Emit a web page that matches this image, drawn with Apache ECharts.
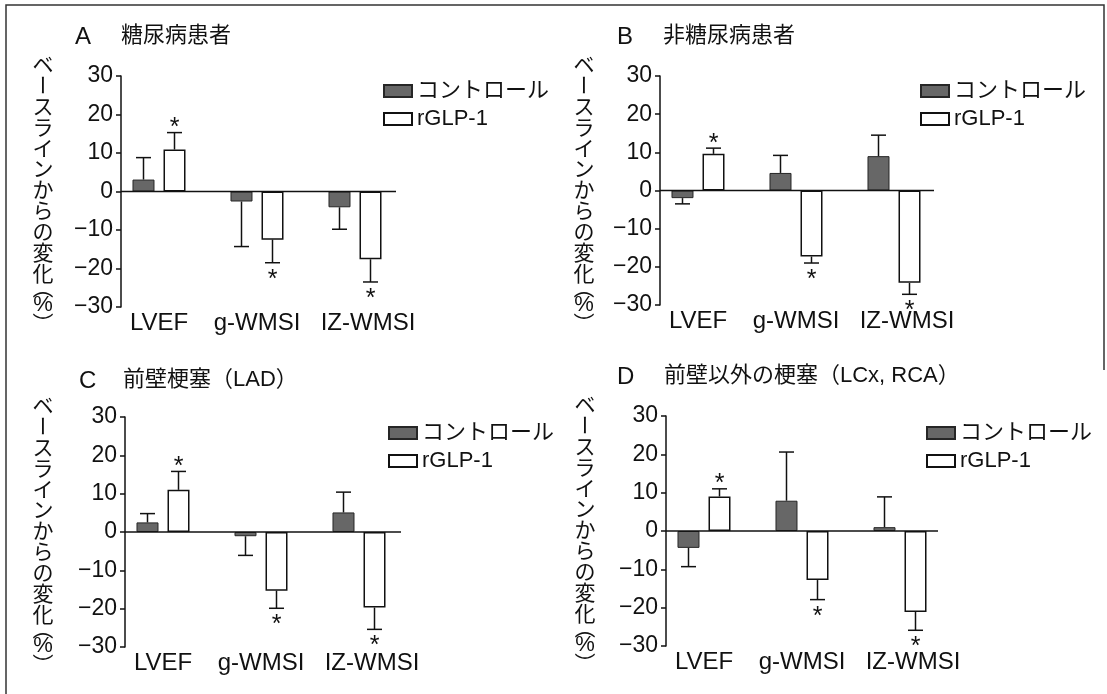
<!DOCTYPE html>
<html><head><meta charset="utf-8">
<script src="https://cdn.jsdelivr.net/npm/echarts@6/dist/echarts.min.js"></script>
<style>html,body{margin:0;padding:0;background:#fff}#c{width:1107px;height:694px}</style>
</head><body><div id="c"></div>
<script>
// ---------- data ----------
const categories = ['LVEF', 'g-WMSI', 'IZ-WMSI'];
const seriesNames = ['コントロール', 'rGLP-1'];
const yTickValues = [-30, -20, -10, 0, 10, 20, 30];
const baseline = 0;
const yAxisName = 'ベースラインからの変化（%）';
const panelLetters = ['A', 'B', 'C', 'D'];
const panelTitles = ['糖尿病患者', '非糖尿病患者', '前壁梗塞（LAD）', '前壁以外の梗塞（LCx, RCA）'];

// A: diabetic
const ctrlA = [3.1, -2.6, -4.1];
const ctrlErrA = [8.8, -14.3, -9.8];
const glpA = [10.9, -12.5, -17.6];
const glpErrA = [15.3, -18.5, -23.5];
// B: non-diabetic
const ctrlB = [-2.0, 4.6, 9.0];
const ctrlErrB = [-3.5, 9.2, 14.5];
const glpB = [9.6, -17.3, -24.2];
const glpErrB = [11.1, -19.0, -27.2];
// C: anterior (LAD)
const ctrlC = [2.5, -1.1, 5.1];
const ctrlErrC = [4.8, -6.1, 10.4];
const glpC = [11.0, -15.3, -19.7];
const glpErrC = [15.8, -19.9, -25.4];
// D: non-anterior (LCx, RCA)
const ctrlD = [-4.4, 7.9, 1.0];
const ctrlErrD = [-9.3, 20.6, 8.9];
const glpD = [9.0, -12.8, -21.1];
const glpErrD = [11.0, -17.9, -25.9];
// significance markers (*)
const ctrlSig = [0, 0, 0];
const glpSig = [1, 1, 1];

const panelData = [
  [ctrlA, ctrlErrA, glpA, glpErrA],
  [ctrlB, ctrlErrB, glpB, glpErrB],
  [ctrlC, ctrlErrC, glpC, glpErrC],
  [ctrlD, ctrlErrD, glpD, glpErrD]
];

// ---------- layout (pixels) ----------
const layout = [
  {ax: 121, top: 76, bottom: 307, lineEnd: 396, lx: 75, tx: 121, ty: 38, legX: 378, legY: 75, nx: 43},
  {ax: 660, top: 76, bottom: 305, lineEnd: 934, lx: 617, tx: 663, ty: 38, legX: 915, legY: 75, nx: 584},
  {ax: 125, top: 417, bottom: 647, lineEnd: 401, lx: 79, tx: 123, ty: 382, legX: 383, legY: 417, nx: 43},
  {ax: 666, top: 416, bottom: 646, lineEnd: 938, lx: 617, tx: 664, ty: 378, legX: 921, legY: 417, nx: 585}
];
const SHIFT = 11, GRIDW = 294, BARW = 22, BAR_OFF = 15.5;
const FONT = "'Liberation Sans', Arial, 'Noto Sans CJK JP', sans-serif";
const JFONT = "'Noto Sans CJK JP', 'Liberation Sans', sans-serif";
const INK = '#111';
const labelPad = [0, 0, 26]; // extra left padding per category label (shifts label right)

function errRender(off) {
  return function (params, api) {
    const k = api.value(0), v = api.value(1), e = api.value(2), s = api.value(3);
    const p0 = api.coord([k, v]);
    const p1 = api.coord([k, e]);
    const x = p0[0] + off;
    const st = {stroke: INK, lineWidth: 1.5};
    const ch = [
      {type: 'line', shape: {x1: x, y1: p0[1], x2: x, y2: p1[1]}, style: st},
      {type: 'line', shape: {x1: x - 7.5, y1: p1[1], x2: x + 7.5, y2: p1[1]}, style: st}
    ];
    if (s) {
      const up = e > 0;
      ch.push({type: 'text', x: x, y: up ? p1[1] - 4.5 : p1[1] + 17,
        style: {text: '*', fontSize: 25, fontFamily: FONT, fill: INK, align: 'center', verticalAlign: 'middle'}});
    }
    return {type: 'group', children: ch};
  };
}

const grids = [], xAxes = [], yAxes = [], series = [], legends = [], graphics = [];
layout.forEach((L, i) => {
  const [ctrl, ctrlErr, glp, glpErr] = panelData[i];
  grids.push({left: L.ax - SHIFT, width: GRIDW, top: L.top, height: L.bottom - L.top});
  xAxes.push({type: 'category', gridIndex: i, data: categories,
    axisLine: {show: false}, axisTick: {show: false},
    axisLabel: {interval: 0, hideOverlap: false, fontSize: 24, fontFamily: FONT, color: INK, margin: 4,
      formatter: (v, idx) => '{c' + idx + '|' + v + '}',
      rich: {
        c0: {fontSize: 24, fontFamily: FONT, color: INK, padding: [0, 0, 0, labelPad[0]]},
        c1: {fontSize: 24, fontFamily: FONT, color: INK, padding: [0, 0, 0, labelPad[1]]},
        c2: {fontSize: 24, fontFamily: FONT, color: INK, padding: [0, 0, 0, labelPad[2]]}
      }}});
  yAxes.push({type: 'value', gridIndex: i, min: yTickValues[0], max: yTickValues[yTickValues.length - 1],
    interval: yTickValues[1] - yTickValues[0], offset: -SHIFT,
    axisLine: {show: true, lineStyle: {color: INK, width: 1.5}},
    axisTick: {show: true, length: 5, lineStyle: {color: INK, width: 1.5}},
    splitLine: {show: false},
    axisLabel: {fontSize: 23, fontFamily: FONT, color: INK, margin: 8,
      formatter: v => String(v).replace('-', '\u2212')}});
  series.push({type: 'bar', name: seriesNames[0], xAxisIndex: i, yAxisIndex: i, data: ctrl,
    barWidth: BARW, barGap: '41%', z: 3,
    itemStyle: {color: '#676767', borderColor: '#262626', borderWidth: 1}});
  series.push({type: 'bar', name: seriesNames[1], xAxisIndex: i, yAxisIndex: i, data: glp,
    barWidth: BARW, barGap: '41%', z: 3,
    itemStyle: {color: '#ffffff', borderColor: INK, borderWidth: 1.5}});
  series.push({type: 'custom', name: 'err-c' + i, xAxisIndex: i, yAxisIndex: i, z: 4,
    renderItem: errRender(-BAR_OFF), encode: {x: 0, y: [1, 2]},
    data: categories.map((c, k) => [k, ctrl[k], ctrlErr[k], ctrlSig[k]])});
  series.push({type: 'custom', name: 'err-g' + i, xAxisIndex: i, yAxisIndex: i, z: 4,
    renderItem: errRender(BAR_OFF), encode: {x: 0, y: [1, 2]},
    data: categories.map((c, k) => [k, glp[k], glpErr[k], glpSig[k]])});
  // zero line (x axis drawn at the baseline value through the y scale)
  series.push({type: 'custom', name: 'zero' + i, xAxisIndex: i, yAxisIndex: i, z: 5, silent: true,
    encode: {x: 0, y: 1}, data: [[0, baseline]],
    renderItem: (params, api) => {
      const y = api.coord([0, api.value(1)])[1];
      return {type: 'line', shape: {x1: L.ax, y1: y, x2: L.lineEnd, y2: y}, style: {stroke: INK, lineWidth: 1.5}};
    }});
  legends.push({data: seriesNames, orient: 'vertical', left: L.legX, top: L.legY,
    itemWidth: 28, itemHeight: 12, itemGap: 6, icon: 'rect', selectedMode: false,
    textStyle: {fontSize: 22, fontFamily: FONT, color: INK, lineHeight: 22}});
  // titles
  graphics.push({type: 'text', left: L.lx, top: L.ty - 13,
    style: {text: panelLetters[i], fontSize: 24, fontFamily: FONT, fill: INK}});
  graphics.push({type: 'text', left: L.tx, top: L.ty - 13,
    style: {text: panelTitles[i], fontSize: 22, fontFamily: FONT, fill: INK}});
  // vertical axis name
  const chars = Array.from(yAxisName);
  const offs = [0, 20.9, 41.8, 62.7, 83.6, 104.5, 125.4, 146.3, 167.2, 188.1, 209, 224, 241, 259];
  const start = L.top - 12;
  chars.forEach((ch, k) => {
    const rot = (ch === 'ー' || ch === '（' || ch === '）') ? -Math.PI / 2 : 0;
    graphics.push({type: 'text', x: L.nx, y: start + offs[k], rotation: rot,
      style: {text: ch, fontSize: ch === '%' ? 22 : 21, fontFamily: ch === '%' ? FONT : JFONT, fill: INK,
        align: 'center', verticalAlign: 'middle'}});
  });
});
// frame
const frame = {stroke: '#333', lineWidth: 1.5};
graphics.push({type: 'polyline', shape: {points: [[6, 694], [6, 5], [1104, 5], [1104, 370]]}, style: Object.assign({fill: null}, frame)});

const chart = echarts.init(document.getElementById('c'), null, {renderer: 'canvas'});
chart.setOption({
  animation: false,
  backgroundColor: '#fff',
  grid: grids, xAxis: xAxes, yAxis: yAxes, series: series, legend: legends,
  graphic: {elements: graphics}
});
</script></body></html>
